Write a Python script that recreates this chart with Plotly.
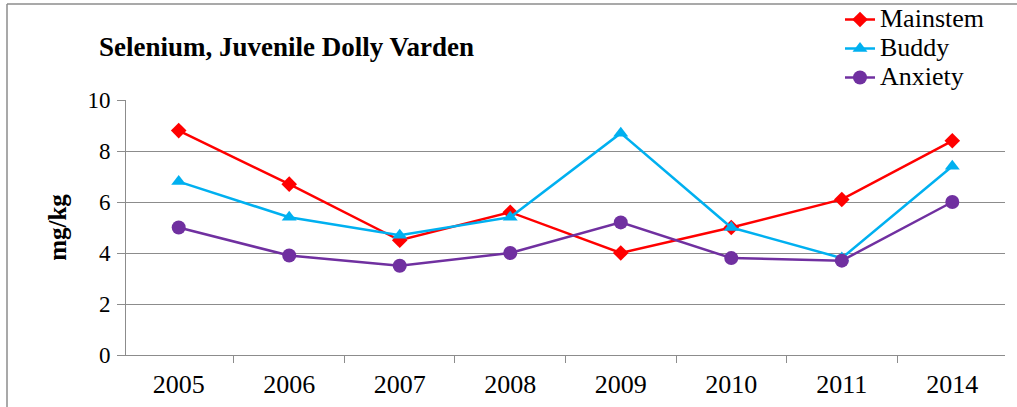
import plotly.graph_objects as go

years = ["2005", "2006", "2007", "2008", "2009", "2010", "2011", "2014"]
mainstem = [8.8, 6.7, 4.5, 5.6, 4.0, 5.0, 6.1, 8.4]
buddy = [6.8, 5.4, 4.7, 5.4, 8.7, 5.0, 3.8, 7.4]
anxiety = [5.0, 3.9, 3.5, 4.0, 5.2, 3.8, 3.7, 6.0]
y_ticks = [0, 2, 4, 6, 8, 10]

W, H = 1017, 407
# plot area in pixels
PL, PR, PT, PB = 126, 1005, 100, 355

def fx(px):
    return px / W

def fy(py):
    return 1 - py / H

FONT = "Liberation Serif, Times New Roman, serif"

fig = go.Figure()
series = [
    ("Mainstem", mainstem, "#FF0000", "diamond", 12),
    ("Buddy", buddy, "#00B0F0", "triangle-up", 13),
    ("Anxiety", anxiety, "#7030A0", "circle", 14),
]
for name, vals, col, sym, sz in series:
    fig.add_trace(go.Scatter(
        x=years, y=vals, name=f'<span style="font-size:26px">{name}</span>',
        mode="lines+markers",
        line=dict(color=col, width=2.5),
        marker=dict(symbol=sym, size=sz, color=col),
    ))

fig.update_layout(
    template="none",
    width=W, height=H,
    margin=dict(l=0, r=0, t=0, b=0, pad=0, autoexpand=False),
    paper_bgcolor="white", plot_bgcolor="white",
    font=dict(family=FONT, color="black"),
    showlegend=True,
    legend=dict(
        x=fx(840), y=1, xanchor="left", yanchor="top",
        font=dict(family=FONT, size=20, color="black"),
        bgcolor="rgba(0,0,0,0)", tracegroupgap=0, itemwidth=30,
    ),
    xaxis=dict(
        domain=[fx(PL), fx(PR)], automargin=False,
        type="category", showgrid=False,
        showline=True, linecolor="#8c8c8c", linewidth=1,
        ticks="outside", tickson="boundaries", ticklen=7, tickcolor="#8c8c8c",
        tickfont=dict(family=FONT, size=26, color="black"),
        ticklabelstandoff=6,
    ),
    yaxis=dict(
        domain=[fy(PB), fy(PT)], automargin=False,
        range=[0, 10], tickvals=y_ticks,
        showgrid=True, gridcolor="#8c8c8c", gridwidth=1,
        showline=True, linecolor="#8c8c8c", linewidth=1,
        ticks="outside", ticklen=8, tickcolor="#8c8c8c",
        tickfont=dict(family=FONT, size=23, color="black"),
        ticklabelstandoff=2,
        zeroline=False,
        title=dict(text="<b>mg/kg</b>", font=dict(family=FONT, size=25, color="black"), standoff=13),
    ),
    annotations=[dict(
        text="<b>Selenium, Juvenile Dolly Varden</b>",
        xref="paper", yref="paper", x=fx(97), y=fy(47),
        xanchor="left", yanchor="middle", showarrow=False,
        font=dict(family=FONT, size=27, color="black"),
    )],
    shapes=[
        dict(type="line", xref="paper", yref="paper", x0=fx(7), x1=fx(7), y0=fy(4), y1=fy(410),
             line=dict(color="#8c8c8c", width=1.5)),
        dict(type="line", xref="paper", yref="paper", x0=fx(7), x1=fx(1020), y0=fy(4), y1=fy(4),
             line=dict(color="#8c8c8c", width=1.5)),
    ],
)

fig.write_html(
    "out.html",
    config={"displayModeBar": False},
    post_script="document.body.style.margin='0';document.body.style.overflow='hidden';",
)
